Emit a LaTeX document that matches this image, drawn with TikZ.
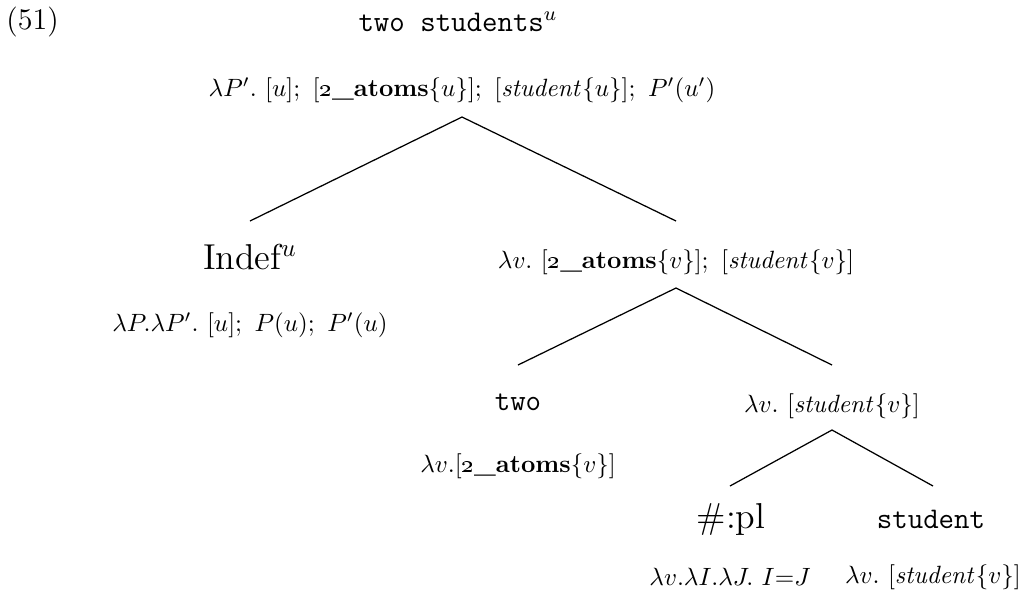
\documentclass[tikz,border=0pt]{standalone}
\begin{document}
\begin{tikzpicture}[x=0.4pt,y=-0.4pt,
  lbl/.style={inner sep=0pt, anchor=center},
  word/.style={inner sep=0pt, anchor=center, font=\Large},
  ttword/.style={inner sep=0pt, anchor=center, font=\large\ttfamily},
  sem/.style={inner sep=0pt, anchor=center},
  br/.style={line width=0.5pt}]
\useasboundingbox (0,0) rectangle (1021,596);
\def\tat{\textbf{\oldstylenums{2}\_atoms}}
\node[lbl, anchor=west, font=\large] (ex) at (6,22) {(51)};
\node[ttword] (title) at (458,22) {two students$^u$};
\node[sem] (s0) at (462,90) {$\lambda P'.~[u];~[\mbox{\tat}\{u\}];~[\mathit{student}\{u\}];~P'(u')$};
\coordinate (a0) at (462,117);
\coordinate (l0) at (250,221);
\coordinate (r0) at (676,221);
\node[word] (indef) at (250,257) {Indef$^u$};
\node[sem] (s1) at (250,325) {$\lambda P.\lambda P'.~[u];~P(u);~P'(u)$};
\node[sem] (s2) at (676,262) {$\lambda v.~[\mbox{\tat}\{v\}];~[\mathit{student}\{v\}]$};
\coordinate (a1) at (676,288);
\coordinate (l1) at (518,365);
\coordinate (r1) at (832,365);
\node[ttword] (two) at (518,402) {two};
\node[sem] (s3) at (832,406) {$\lambda v.~[\mathit{student}\{v\}]$};
\node[sem] (s4) at (518,466) {$\lambda v.[\mbox{\tat}\{v\}]$};
\coordinate (a2) at (832,430);
\coordinate (l2) at (730,486);
\coordinate (r2) at (933,486);
\node[word] (pl) at (731,519) {\#:pl};
\node[ttword] (stu) at (931,519) {student};
\node[sem] (s5) at (730,577) {$\lambda v.\lambda I.\lambda J.~I{=}J$};
\node[sem] (s6) at (933,577) {$\lambda v.~[\mathit{student}\{v\}]$};
\draw[br] (l0) -- (a0) -- (r0);
\draw[br] (l1) -- (a1) -- (r1);
\draw[br] (l2) -- (a2) -- (r2);
\end{tikzpicture}
\end{document}
